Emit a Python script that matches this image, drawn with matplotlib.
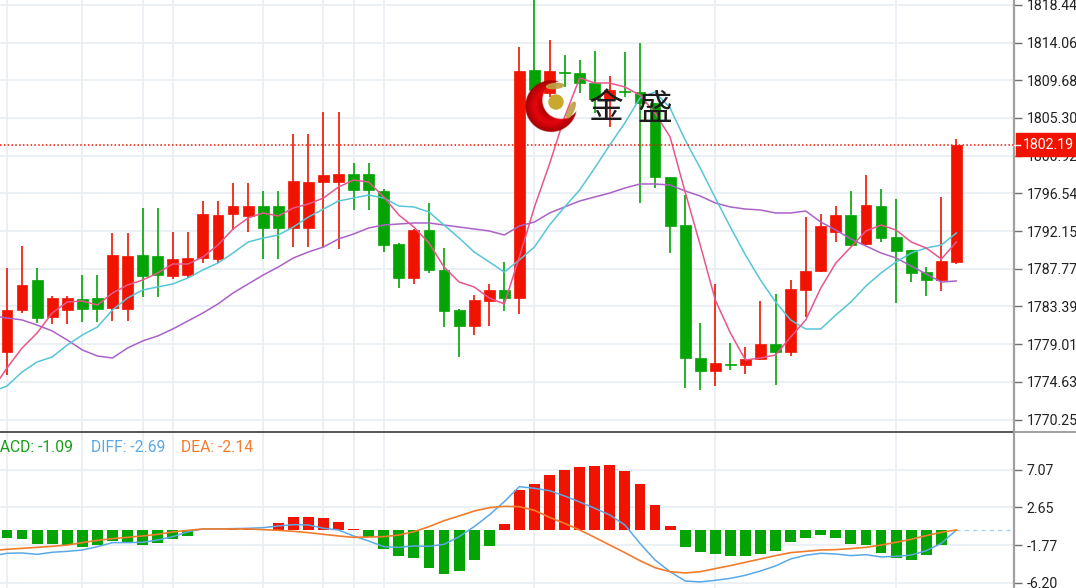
import numpy as np
import matplotlib
matplotlib.use('Agg')
import matplotlib.pyplot as plt
from matplotlib.patches import Circle, Ellipse, Rectangle
from matplotlib.transforms import blended_transform_factory

# Kerzen
opens = [1778.10, 1782.98, 1786.46, 1782.16, 1782.98, 1784.26, 1784.37, 1783.21, 1783.09, 1789.37,
         1789.25, 1786.93, 1787.04, 1789.02, 1788.90, 1794.13, 1793.90, 1795.06, 1795.06, 1792.51,
         1792.51, 1797.85, 1797.85, 1798.78, 1798.78, 1796.81, 1790.65, 1786.70, 1792.27, 1787.63,
         1782.98, 1781.12, 1784.02, 1785.30, 1784.37, 1810.87, 1808.19, 1810.69, 1810.52, 1809.36,
         1807.38, 1808.43, 1808.31, 1807.03, 1798.43, 1792.85, 1777.40, 1775.89, 1776.70, 1776.59,
         1777.28, 1779.03, 1778.10, 1785.30, 1787.51, 1792.04, 1794.02, 1790.65, 1795.06, 1791.46,
         1789.95, 1787.39, 1786.46, 1788.56]
closes = [1782.98, 1785.88, 1782.05, 1784.37, 1784.37, 1783.09, 1783.09, 1789.37, 1789.25, 1786.93,
          1787.04, 1788.90, 1789.02, 1794.13, 1794.02, 1795.06, 1795.06, 1792.51, 1792.51, 1797.97,
          1797.85, 1798.66, 1798.78, 1796.92, 1796.92, 1790.53, 1786.70, 1792.27, 1787.63, 1782.86,
          1781.12, 1784.14, 1785.30, 1784.37, 1810.75, 1808.54, 1810.75, 1810.52, 1809.36, 1807.44,
          1808.54, 1808.31, 1807.03, 1798.43, 1792.74, 1777.40, 1775.89, 1776.82, 1776.59, 1777.28,
          1779.03, 1778.10, 1785.42, 1787.51, 1792.74, 1794.02, 1790.53, 1795.18, 1791.34, 1789.83,
          1787.28, 1786.46, 1788.67, 1802.19]
highs = [1787.86, 1790.41, 1787.86, 1784.60, 1784.60, 1787.04, 1787.04, 1791.93, 1791.93, 1794.83,
         1794.83, 1792.04, 1792.04, 1795.64, 1795.64, 1797.74, 1797.74, 1796.81, 1796.81, 1803.43,
         1803.43, 1805.99, 1805.99, 1800.06, 1800.06, 1797.04, 1790.76, 1792.39, 1795.41, 1790.18,
         1783.09, 1784.72, 1786.00, 1788.56, 1813.54, 1820.00, 1814.35, 1812.61, 1812.03, 1813.07,
         1810.17, 1812.96, 1814.00, 1807.03, 1798.43, 1796.34, 1781.47, 1786.00, 1779.14, 1778.68,
         1784.02, 1784.84, 1786.46, 1793.78, 1794.13, 1795.06, 1796.81, 1798.66, 1797.04, 1795.88,
         1789.95, 1787.97, 1796.11, 1802.85]
lows = [1775.42, 1782.63, 1781.47, 1781.35, 1781.35, 1781.58, 1781.58, 1781.70, 1781.70, 1784.49,
        1784.49, 1786.58, 1786.70, 1788.44, 1788.44, 1792.27, 1792.04, 1788.90, 1788.90, 1790.30,
        1790.30, 1790.30, 1790.07, 1794.60, 1794.60, 1789.72, 1785.53, 1786.00, 1787.28, 1781.00,
        1777.52, 1780.07, 1781.12, 1782.86, 1782.51, 1807.96, 1807.73, 1808.89, 1808.19, 1805.87,
        1804.24, 1807.73, 1795.41, 1797.15, 1789.60, 1773.91, 1773.68, 1774.15, 1776.01, 1775.54,
        1777.17, 1774.26, 1777.63, 1782.16, 1787.39, 1790.88, 1790.41, 1790.53, 1790.88, 1783.79,
        1786.23, 1784.60, 1785.19, 1788.32]

# gleitende Durchschnitte, erster Wert liegt eine Kerze links vom Bild
ma_pink = [1773.68, 1776.24, 1778.56, 1780.31, 1782.63, 1783.91, 1784.02, 1783.56, 1784.95, 1785.88,
           1786.46, 1787.28, 1788.32, 1788.32, 1789.14, 1790.53, 1792.39, 1793.67, 1794.25, 1793.90,
           1794.83, 1795.30, 1795.99, 1797.27, 1798.08, 1797.85, 1796.11, 1794.02, 1792.62, 1790.76,
           1787.97, 1786.23, 1785.65, 1784.37, 1783.68, 1789.14, 1794.95, 1799.94, 1805.40, 1809.94,
           1809.36, 1809.36, 1808.89, 1807.96, 1805.87, 1803.08, 1796.69, 1790.53, 1784.14, 1780.31,
           1777.17, 1777.40, 1777.75, 1779.84, 1781.82, 1785.53, 1788.44, 1790.30, 1792.16, 1792.85,
           1792.27, 1790.88, 1790.18, 1788.90, 1790.88]
ma_cyan = [1773.45, 1774.15, 1775.77, 1776.94, 1777.52, 1778.91, 1780.07, 1781.00, 1782.98, 1784.37,
           1785.30, 1785.65, 1786.00, 1786.70, 1787.63, 1788.44, 1789.60, 1790.88, 1791.34, 1791.69,
           1792.62, 1793.78, 1794.71, 1795.64, 1795.99, 1796.34, 1795.99, 1795.06, 1794.95, 1794.37,
           1792.85, 1791.34, 1789.72, 1788.56, 1787.39, 1788.79, 1790.30, 1792.85, 1794.95, 1796.92,
           1799.48, 1802.15, 1804.71, 1807.61, 1808.31, 1806.45, 1802.73, 1799.48, 1795.99, 1792.62,
           1789.37, 1786.46, 1783.91, 1781.82, 1780.77, 1780.77, 1782.40, 1783.91, 1785.77, 1787.28,
           1788.56, 1789.60, 1790.18, 1790.53, 1791.93]
ma_purple = [1782.28, 1782.05, 1781.82, 1781.23, 1780.54, 1779.49, 1778.33, 1777.63, 1777.40, 1778.56,
             1779.38, 1779.96, 1780.77, 1781.70, 1782.63, 1783.68, 1784.95, 1786.00, 1787.04, 1787.97,
             1789.02, 1789.72, 1790.30, 1791.23, 1791.81, 1792.51, 1792.85, 1792.97, 1793.09, 1793.09,
             1792.85, 1792.62, 1792.39, 1792.16, 1791.69, 1792.74, 1793.20, 1794.25, 1794.95, 1795.64,
             1796.11, 1796.57, 1797.15, 1797.62, 1797.62, 1797.50, 1796.81, 1796.22, 1795.41, 1794.95,
             1794.71, 1794.60, 1794.25, 1794.25, 1794.48, 1793.20, 1792.27, 1791.23, 1790.41, 1789.60,
             1789.02, 1788.09, 1787.16, 1786.23, 1786.35]

# MACD
macd_hist = [-0.98, -1.05, -1.64, -1.64, -1.79, -1.95, -1.79, -1.25, -1.44, -1.72,
             -1.56, -1.09, -0.70, 0.05, 0.05, 0.08, 0.10, 0.12, 0.86, 1.56,
             1.56, 1.44, 0.98, 0.16, -0.86, -2.26, -3.04, -3.32, -4.49, -5.15,
             -4.80, -3.51, -1.83, 0.66, 4.68, 5.38, 6.44, 7.02, 7.33, 7.53,
             7.60, 6.94, 5.38, 2.89, 0.51, -1.95, -2.54, -2.81, -3.08, -3.08,
             -2.81, -2.42, -1.37, -0.98, -0.62, -0.98, -1.60, -1.79, -2.73, -3.28,
             -3.47, -2.96, -1.72, 0.0]
diff_line = [-3.04, -2.73, -2.69, -2.85, -2.61, -2.50, -2.34, -1.95, -1.48, -1.48,
             -1.44, -1.17, -0.78, -0.20, 0.12, 0.12, 0.16, 0.20, 0.27, 0.47,
             0.62, 0.59, 0.20, 0.0, -0.70, -1.29, -1.95, -2.03, -1.87, -1.91,
             -1.68, -0.78, 0.39, 1.76, 3.32, 5.07, 4.88, 4.60, 3.98, 3.28,
             2.54, 1.76, 0.59, -1.56, -3.51, -4.88, -5.97, -6.08, -5.89, -5.66,
             -5.30, -4.80, -4.21, -3.39, -2.96, -2.73, -2.81, -3.00, -2.89, -3.16,
             -3.08, -2.93, -2.42, -1.56, 0.0]
dea_line = [-2.42, -2.26, -2.15, -2.03, -1.91, -1.76, -1.48, -1.21, -1.01, -0.86,
            -0.70, -0.51, -0.23, -0.04, 0.12, 0.12, 0.12, 0.12, 0.04, -0.04,
            -0.16, -0.31, -0.51, -0.70, -0.86, -0.82, -0.78, -0.59, -0.20, 0.39,
            1.09, 1.64, 2.22, 2.61, 2.77, 2.73, 2.30, 1.48, 0.78, 0.0,
            -0.86, -1.76, -2.65, -3.59, -4.41, -4.88, -5.03, -4.88, -4.52, -4.17,
            -3.78, -3.39, -3.00, -2.65, -2.50, -2.34, -2.30, -2.18, -2.03, -1.76,
            -1.44, -1.09, -0.66, -0.27, 0.0]

price_ticks = [1818.44, 1814.06, 1809.68, 1805.30, 1800.92, 1796.54, 1792.15, 1787.77, 1783.39, 1779.01, 1774.63, 1770.25]
macd_ticks = [7.07, 2.65, -1.77, -6.20]
grid_idx = [0, 5, 9, 11, 17, 21, 23, 25, 35, 47, 59]
last_price = 1802.19

RED = '#f01400'
GREEN = '#04a404'
GRID = '#e7eef4'
AXIS = '#a0a0a0'
W, H = 1076, 588
AX_W = 1014
SPLIT = 432
FONT = 'Roboto'
TICK_SIZE = 10.2
LEG_SIZE = 11.3

fig = plt.figure(figsize=(W / 100, H / 100), dpi=100, facecolor='white')
ax = fig.add_axes([0, 1 - SPLIT / H, AX_W / W, SPLIT / H])
ax2 = fig.add_axes([0, 0, AX_W / W, 1 - SPLIT / H])

xlim = (-7 / 15.07, (AX_W - 7) / 15.07)
idx = np.arange(len(opens))
idx_ma = np.arange(len(ma_pink)) - 1
bar_w = 0.72

colors = [RED if c >= o else GREEN for o, c in zip(opens, closes)]
bottoms = np.minimum(opens, closes)
heights = np.abs(np.array(closes) - np.array(opens))

# oberes Panel
ax.vlines(idx, lows, highs, colors=colors, lw=1.2, zorder=3)
ax.bar(idx, heights, bottom=bottoms, width=bar_w, color=colors, edgecolor=colors, lw=0.5, zorder=4)
ax.plot(idx_ma, ma_purple, color='#ab62c8', lw=1.1, zorder=5)
ax.plot(idx_ma, ma_cyan, color='#56c6d6', lw=1.1, zorder=5)
ax.plot(idx_ma, ma_pink, color='#e8568e', lw=1.1, zorder=6)
ax.axhline(last_price, color=RED, ls=(0, (1, 1.5)), lw=1.1, zorder=7)
ax.set_xlim(xlim)
ax.set_ylim(1768.80, 1819.00)
ax.set_yticks(price_ticks)
ax.set_yticklabels([f'{t:.2f}' for t in price_ticks])

# MACD Panel
ax2.bar(idx, macd_hist, width=bar_w, color=[RED if v >= 0 else GREEN for v in macd_hist], zorder=3)
ax2.plot(idx_ma, diff_line, color='#5ba8e6', lw=1.1, zorder=5)
ax2.plot(idx_ma, dea_line, color='#f17c2c', lw=1.2, zorder=6)
ax2.plot([idx[-1], xlim[1]], [0, 0], color='#a8d4e8', ls=(0, (3, 3)), lw=1, zorder=2)
ax2.set_xlim(xlim)
ax2.set_ylim(-6.79, 11.47)
ax2.set_yticks(macd_ticks)
ax2.set_yticklabels([f'{t:.2f}' for t in macd_ticks])

for a in (ax, ax2):
    a.set_xticks(grid_idx)
    a.set_xticklabels([])
    a.tick_params(axis='x', length=0)
    a.tick_params(axis='y', direction='out', length=6, width=1, color='#707070', pad=3,
                  labelsize=TICK_SIZE, labelcolor='#222222', left=False, labelleft=False, right=True, labelright=True)
    for lab in a.get_yticklabels():
        lab.set_family(FONT)
    a.grid(True, color=GRID, lw=1.2)
    a.set_axisbelow(True)
    for s in ('left', 'bottom', 'top'):
        a.spines[s].set_visible(False)
    a.spines['right'].set_color(AXIS)
    a.spines['right'].set_linewidth(1.6)

ax2.spines['top'].set_visible(True)
ax2.spines['top'].set_color('#3a3a3a')
ax2.spines['top'].set_linewidth(1.2)

# Legende vom MACD, das M wird links abgeschnitten
leg_y = 0.902
ax2.text(-14 / AX_W, leg_y, 'MACD: -1.09', color='#1a9e1a', fontsize=LEG_SIZE, family=FONT, transform=ax2.transAxes, va='center', clip_on=True)
ax2.text(91 / AX_W, leg_y, 'DIFF: -2.69', color='#5ba8e6', fontsize=LEG_SIZE, family=FONT, transform=ax2.transAxes, va='center')
ax2.text(181 / AX_W, leg_y, 'DEA: -2.14', color='#f17c2c', fontsize=LEG_SIZE, family=FONT, transform=ax2.transAxes, va='center')

# Preisschild rechts
trans = blended_transform_factory(ax.transAxes, ax.transData)
tag = Rectangle((1016 / AX_W, last_price - 1.33), 60 / AX_W, 2.66, transform=trans, color=RED, clip_on=False, zorder=10)
ax.add_patch(tag)
ax.plot([1.0, 1020 / AX_W], [last_price, last_price], transform=trans, color='white', lw=1, clip_on=False, zorder=11)
ax.text(1023 / AX_W, last_price, f'{last_price:.2f}', transform=trans, color='white', fontsize=TICK_SIZE, family=FONT,
        va='center', ha='left', clip_on=False, zorder=12)

# Trennlinie rechts neben der Achse
fig.add_artist(plt.Line2D([AX_W / W, 1], [1 - SPLIT / H] * 2, color=AXIS, lw=1.4))

# Logo als Wasserzeichen, Sichel mit Farbverlauf
logo = fig.add_axes([0, 0, 1, 1], facecolor='none')
gx, gy = np.meshgrid(np.arange(520, 582, 0.25), np.arange(76, 136, 0.25))
outer = np.hypot(gx - 551, gy - 106)
inner = np.hypot(gx - 561, gy - 100)
shade = np.clip(1 - np.abs(outer / 26 - 0.62) / 0.5, 0, 1)
rgba = np.zeros(gx.shape + (4,))
rgba[..., 0] = 0.55 + 0.35 * shade
rgba[..., 1] = 0.02 * shade
rgba[..., 2] = 0.05 * shade
rgba[..., 3] = np.clip((26 - outer) * 2, 0, 1) * np.clip((inner - 18.5) * 2, 0, 1)
logo.imshow(rgba, extent=(520, 582, 136, 76), aspect='auto', zorder=1, interpolation='bilinear')
logo.set_xlim(0, W)
logo.set_ylim(H, 0)
logo.axis('off')
logo.add_patch(Ellipse((555, 86), 17, 5, angle=-5, color='#bfa044', alpha=0.9, zorder=2))
logo.add_patch(Ellipse((571, 110), 5, 17, angle=25, color='#bfa044', alpha=0.9, zorder=2))
logo.add_patch(Circle((556, 102), 7, color='#c9a92c', zorder=3))
logo.text(606, 109, '金', fontsize=25, family='Noto Sans CJK SC', color='#1c1c1c', ha='center', va='center', zorder=6)
logo.text(655, 109, '盛', fontsize=25, family='Noto Sans CJK SC', color='#1c1c1c', ha='center', va='center', zorder=6)

fig.savefig('out.png', dpi=100)
